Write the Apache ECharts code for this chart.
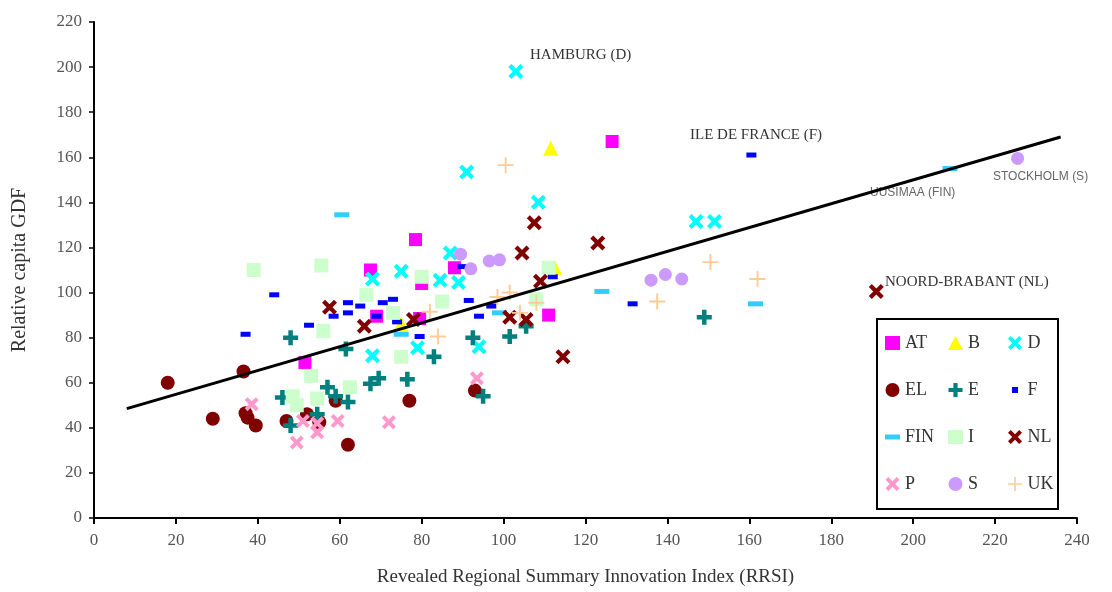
<!DOCTYPE html>
<html>
<head>
<meta charset="utf-8">
<script src="https://cdn.jsdelivr.net/npm/echarts@6/dist/echarts.min.js"></script>
<style>
  html, body { margin: 0; padding: 0; background: #fff; }
  #main { width: 1112px; height: 592px; }
</style>
</head>
<body>
<div id="main"></div>
<script>
var xTicks = [0, 20, 40, 60, 80, 100, 120, 140, 160, 180, 200, 220, 240];
var yTicks = [0, 20, 40, 60, 80, 100, 120, 140, 160, 180, 200, 220];

// [RRSI, relative GDP per capita]
var AT = [[126.5,167],[78.5,123.5],[67.5,110],[88,111],[80,104],[69,89.5],[79.5,88.5],[111,90],[51.5,69]];
var B = [[111.5,164],[112.5,111],[75,86]];
var D = [[103,198],[91,153.5],[108.5,140],[147,131.5],[151.5,131.5],[87,117.5],[68,106],[75,109.5],[84.5,105.5],[89,104.5],[68,72],[79,75.5],[94,76]];
var EL = [[18,60],[29,44],[36.5,65],[37,46.5],[37.5,44.5],[39.5,41],[47,43],[52,46],[55,42.5],[59,52],[62,32.5],[77,52],[93,56.5]];
var E = [[149,89],[48,80],[46,53.5],[48,41],[54.5,46],[57,58],[59,54],[62,51.5],[61.5,75],[67.5,59.5],[69.5,62],[76.5,61.5],[83,71.5],[92.5,80],[101.5,80.5],[105.5,85],[95,54]];
var F = [[160.5,161],[131.5,95],[44,99],[37,81.5],[52.5,85.5],[58.5,89.5],[62,95.5],[65,94],[62,91],[70.5,95.5],[73,97],[69,89.5],[74,87],[90,111.5],[91.5,96.5],[94,89.5],[97,94],[79.5,80.5],[112,107]];
var FIN = [[60.5,134.5],[124,100.5],[161.5,95],[209,155],[99,91],[75,81.5]];
var I = [[39,110],[55.5,112],[56,83],[53,63],[48.5,54],[49.5,50],[54.5,53],[62.5,58],[66.5,99],[73,91],[80,107],[85,96],[75,71.5],[111,111],[108,97]];
var NL = [[191,100.5],[104.5,117.5],[109,105],[57.5,93.5],[66,85],[78,88],[101.5,89],[105.5,88],[114.5,71.5],[123,122],[107.5,131]];
var P = [[38.5,50.5],[49.5,33.5],[51,43],[54.5,38],[54.5,42],[59.5,43],[72,42.5],[93.5,62]];
var S = [[225.5,159.5],[136,105.5],[139.5,108],[143.5,106],[89.5,117],[92,110.5],[96.5,114],[99,114.5]];
var UK = [[100.5,156.5],[150.5,113.5],[162,106],[137.5,96],[82,91.5],[84,80.5],[98.5,98],[101.5,100],[104,91],[108,95.5]];
var trend = [[8,48.5],[236,169]];

var xShape = 'path://M0,2 L2,0 L5,3 L8,0 L10,2 L7,5 L10,8 L8,10 L5,7 L2,10 L0,8 L3,5 Z';
var plusThick = 'path://M3.5,0 H6.5 V3.5 H10 V6.5 H6.5 V10 H3.5 V6.5 H0 V3.5 H3.5 Z';
var plusThin = 'path://M4.4,0 H5.6 V4.4 H10 V5.6 H5.6 V10 H4.4 V5.6 H0 V4.4 H4.4 Z';
// legend-only icons with empty margin so they draw smaller than the box
var smallSq = 'path://M0,0 M14,14 M4,4 H10 V10 H4 Z';
var thinBar = 'path://M0,0 M15,14 M0,4.5 H15 V9.5 H0 Z';

function sc(name, data, symbol, size, color) {
  return {
    name: name, type: 'scatter', data: data,
    symbol: symbol, symbolSize: size,
    itemStyle: { color: color, opacity: 1 },
    z: 3
  };
}

var serif = '"Liberation Serif", "DejaVu Serif", serif';
var sans = '"Liberation Sans", Arial, sans-serif';

var series = [
  sc('AT', AT, 'rect', 13, '#ff00ff'),
  sc('B', B, 'triangle', 15, '#ffff00'),
  sc('D', D, xShape, 15, '#00ffff'),
  sc('EL', EL, 'circle', 14, '#800000'),
  sc('E', E, plusThick, 15, '#007f7f'),
  sc('F', F, 'rect', [10, 5], '#0000ff'),
  sc('FIN', FIN, 'rect', [15, 5], '#33ccff'),
  sc('I', I, 'rect', 14, '#ccffcc'),
  sc('NL', NL, xShape, 15, '#800000'),
  sc('P', P, xShape, 14, '#ff99cc'),
  sc('S', S, 'circle', 13, '#cc99ff'),
  sc('UK', UK, plusThin, 16, '#ffcc99'),
  {
    name: 'trend', type: 'line', data: trend,
    symbol: 'none', lineStyle: { color: '#000', width: 3 }, z: 4,
    silent: true
  }
];

function leg(left, items) {
  return {
    left: left, top: 329, orient: 'vertical', itemGap: 29,
    itemWidth: 15, itemHeight: 14,
    textStyle: { fontFamily: serif, fontSize: 18, color: '#333' },
    data: items
  };
}

var chart = echarts.init(document.getElementById('main'));
chart.setOption({
  animation: false,
  backgroundColor: '#fff',
  grid: { left: 94, right: 35, top: 22, bottom: 73 },
  xAxis: {
    type: 'value', min: 0, max: 240, interval: 20,
    name: 'Revealed Regional Summary Innovation Index (RRSI)',
    nameLocation: 'middle', nameGap: 50,
    nameTextStyle: { fontFamily: serif, fontSize: 19, color: '#333' },
    axisLine: { lineStyle: { color: '#000', width: 2 } },
    axisTick: { length: 6, lineStyle: { color: '#000', width: 2 } },
    axisLabel: { margin: 14, fontFamily: serif, fontSize: 17, color: '#555',
      formatter: function (v) { return xTicks.indexOf(v) >= 0 ? String(v) : ''; } },
    splitLine: { show: false }
  },
  yAxis: {
    type: 'value', min: 0, max: 220, interval: 20,
    name: 'Relative capita GDF',
    nameLocation: 'middle', nameGap: 64,
    nameTextStyle: { fontFamily: serif, fontSize: 20, color: '#333' },
    axisLine: { show: true, lineStyle: { color: '#000', width: 2 } },
    axisTick: { show: true, length: 5, lineStyle: { color: '#000', width: 1.5 } },
    axisLabel: { margin: 12, fontFamily: serif, fontSize: 17, color: '#555',
      formatter: function (v) { return yTicks.indexOf(v) >= 0 ? String(v) : ''; } },
    splitLine: { show: false }
  },
  legend: [
    leg(880, ['AT', 'EL', { name: 'FIN', icon: thinBar }, 'P']),
    leg(943, ['B', 'E', 'I', 'S']),
    leg(1003, ['D', { name: 'F', icon: smallSq }, 'NL', 'UK'])
  ],
  graphic: [
    { type: 'rect', left: 876, top: 318, z: 1,
      shape: { width: 181, height: 190 },
      style: { fill: 'rgba(0,0,0,0)', stroke: '#000', lineWidth: 2 } },
    { type: 'text', left: 530, top: 48,
      style: { text: 'HAMBURG (D)', font: '15px ' + serif, fill: '#333' } },
    { type: 'text', left: 690, top: 128,
      style: { text: 'ILE DE FRANCE (F)', font: '15px ' + serif, fill: '#333' } },
    { type: 'text', left: 870, top: 187,
      style: { text: 'UUSIMAA (FIN)', font: '12px ' + sans, fill: '#666' } },
    { type: 'text', left: 993, top: 171,
      style: { text: 'STOCKHOLM (S)', font: '12px ' + sans, fill: '#666' } },
    { type: 'text', left: 885, top: 275,
      style: { text: 'NOORD-BRABANT (NL)', font: '15px ' + serif, fill: '#333' } }
  ],
  series: series
});
</script>
</body>
</html>
